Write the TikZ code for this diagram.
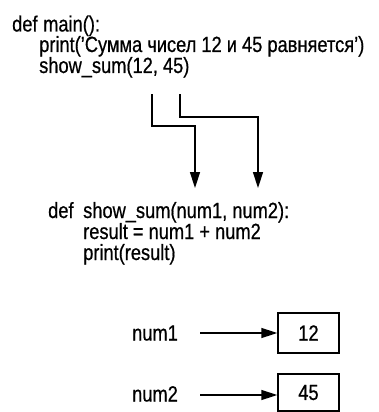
\documentclass[tikz,border=0pt]{standalone}
\usepackage{fontspec}
\setmainfont[FakeStretch=0.83,FakeBold=0.6]{Liberation Sans}
\usetikzlibrary{arrows.meta}
\tikzset{
  code/.style={anchor=base west, inner sep=0pt, font=\fontsize{22}{26}\selectfont},
  conn/.style={line width=1.5pt},
  arr/.style={conn, -{Triangle[length=16pt,width=10pt]}},
  valbox/.style={draw, line width=1.5pt, inner sep=0pt, minimum width=61pt, minimum height=40pt, font=\fontsize{22}{26}\selectfont}
}
\begin{document}
\begin{tikzpicture}[x=1pt,y=-1pt]
\useasboundingbox (0,0) rectangle (378,412);
% block 1
\node[code] (def1) at (12,31.5) {def};
\node[code] (main) at (43,31.5) {main():};
\node[code] (print1) at (39,52) {print('Сумма чисел 12 и 45 равняется')};
\node[code] (call) at (39,73) {show\_sum(12, 45)};
% block 2
\node[code] (def2) at (48,218) {def};
\node[code] (sig) at (83,218) {show\_sum(num1, num2):};
\node[code] (res) at (83,239) {result = num1 + num2};
\node[code] (print2) at (83,260) {print(result)};
% connectors
\coordinate (a1) at (152,94);
\coordinate (a2) at (180,94);
\coordinate (t1) at (195,188);
\coordinate (t2) at (258,188);
\draw[arr] (a1) -- (152,126) -| (t1);
\draw[arr] (a2) -- (180,117) -| (t2);
% variables
\node[code] (n1) at (132,340.5) {num1};
\node[code] (n2) at (132,401.5) {num2};
\node[valbox] (b1) at (308.5,333) {12};
\node[valbox, minimum height=37pt] (b2) at (308.5,392.5) {45};
\coordinate (s1) at (200,333);
\coordinate (s2) at (200,395);
\draw[arr] (s1) -- (b1.west);
\draw[arr] (s2) -- (b2.west |- s2);
\end{tikzpicture}
\end{document}
